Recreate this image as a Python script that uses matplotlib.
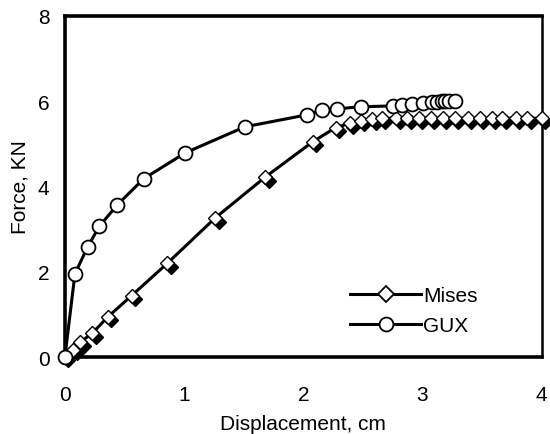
import matplotlib
matplotlib.use("Agg")
import matplotlib.pyplot as plt
from matplotlib.transforms import ScaledTranslation

plt.rcParams['font.family'] = ['Liberation Sans', 'DejaVu Sans']

# Mises curve (diamonds)
mises_x = [0, 0.07, 0.13, 0.23, 0.36, 0.56, 0.86, 1.26, 1.68, 2.08, 2.27,
           2.39, 2.48, 2.58, 2.66, 2.78, 2.87, 2.97, 3.07, 3.17, 3.27, 3.38,
           3.48, 3.58, 3.67, 3.78, 3.88, 4.0]
mises_y = [0, 0.17, 0.35, 0.56, 0.94, 1.44, 2.2, 3.26, 4.22, 5.05, 5.38,
           5.48, 5.54, 5.58, 5.6, 5.6, 5.6, 5.6, 5.6, 5.6, 5.6, 5.6,
           5.6, 5.6, 5.6, 5.6, 5.6, 5.6]

# GUX curve (circles)
gux_x = [0, 0.084, 0.19, 0.29, 0.44, 0.66, 1.01, 1.51, 2.03, 2.16, 2.28,
         2.48, 2.75, 2.83, 2.91, 3.0, 3.08, 3.12, 3.16, 3.19, 3.22, 3.27]
gux_y = [0, 1.95, 2.58, 3.07, 3.57, 4.18, 4.79, 5.40, 5.68, 5.80, 5.82,
         5.87, 5.89, 5.91, 5.94, 5.96, 5.98, 5.99, 6.0, 6.0, 6.0, 6.01]

FS = 15

fig = plt.figure(figsize=(5.5, 4.35), dpi=100)
ax = fig.add_axes([0.118, 0.177, 0.867, 0.784])

# lines
ax.plot(gux_x, gux_y, '-', color='black', lw=2.2, zorder=2)
ax.plot(mises_x, mises_y, '-', color='black', lw=2.2, zorder=2)

# diamond shadow offset down-right
shadow = ax.transData + ScaledTranslation(2.5 / 72, -2.5 / 72, fig.dpi_scale_trans)
ax.plot(mises_x, mises_y, 'D', color='black', ms=7.5, transform=shadow,
        zorder=3, clip_on=False)
ax.plot(mises_x, mises_y, 'D', mfc='white', mec='black', mew=1.0, ms=7.5,
        zorder=4, clip_on=False)

ax.plot(gux_x, gux_y, 'o', mfc='white', mec='black', mew=1.3, ms=10,
        zorder=5, clip_on=False)

# legend proxies
ax.plot([], [], '-D', color='black', lw=2.2, mfc='white', mec='black',
        mew=1.3, ms=8, label='Mises')
ax.plot([], [], '-o', color='black', lw=2.2, mfc='white', mec='black',
        mew=1.3, ms=10, label='GUX')
ax.legend(loc='lower right', bbox_to_anchor=(0.905, 0.01), frameon=False,
          fontsize=FS, handlelength=3.4, handletextpad=0.1,
          labelspacing=0.5)

ax.set_xlim(0, 4)
ax.set_ylim(0, 8)
ax.set_xticks([0, 1, 2, 3, 4])
ax.set_yticks([0, 2, 4, 6, 8])
ax.tick_params(length=0, labelsize=FS)
ax.tick_params(axis='x', pad=20)
ax.tick_params(axis='y', pad=11)
for side in ['left', 'bottom', 'top']:
    ax.spines[side].set_linewidth(2.6)
ax.spines['right'].set_linewidth(1.8)

ax.set_xlabel('Displacement, cm', fontsize=FS, labelpad=7)
ax.set_ylabel('Force, KN', fontsize=FS, labelpad=6)

fig.savefig('out.png', dpi=100)
